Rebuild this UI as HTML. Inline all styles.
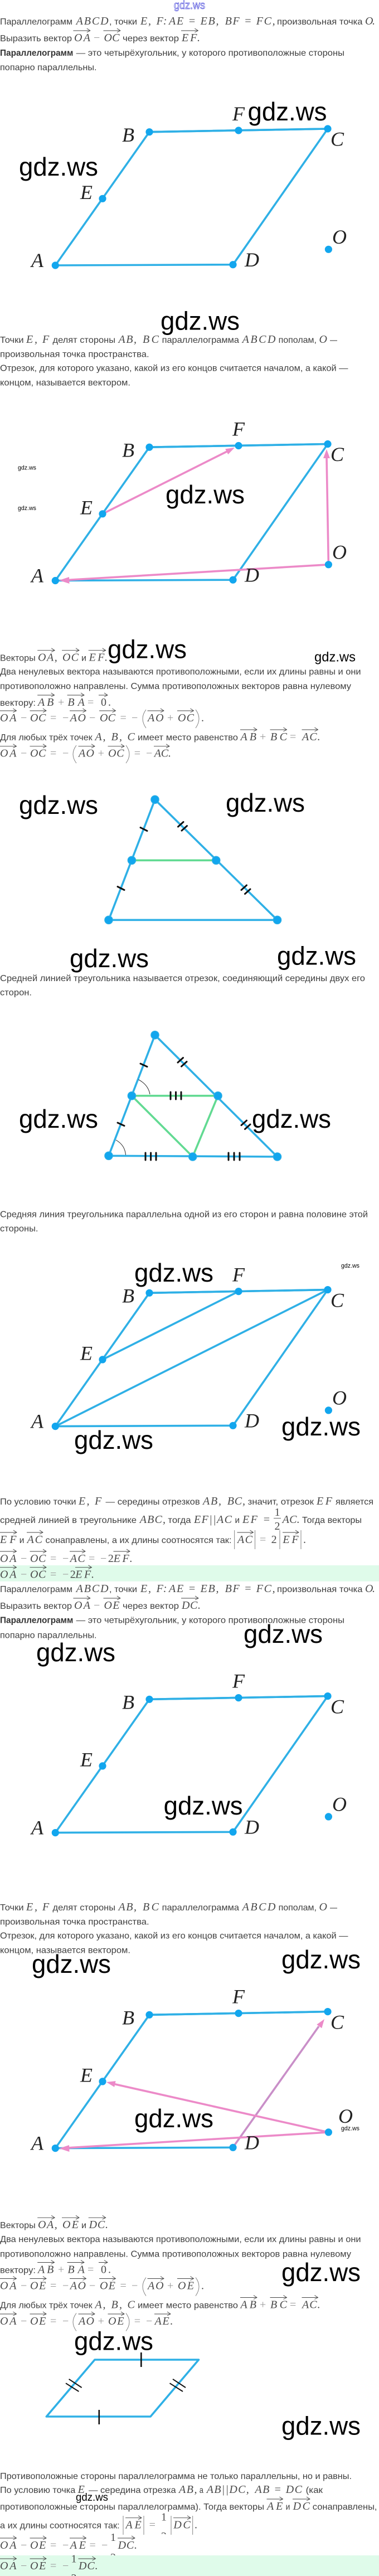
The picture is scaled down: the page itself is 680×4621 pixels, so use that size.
<!DOCTYPE html>
<html lang="ru"><head><meta charset="utf-8"><title>gdz.ws</title>
<style>
html,body{margin:0;padding:0;background:#fff}
svg{display:block}
.t{font:16px "Liberation Sans","Noto Sans CJK SC",sans-serif;fill:#404040}
.b{font:bold 16px "Liberation Sans","Noto Sans CJK SC",sans-serif;fill:#333}
.m{font:italic 20px "Liberation Serif",serif;fill:#4a4a4a}
.n{font:20px "Liberation Serif",serif;fill:#4a4a4a}
.g{font:20px "Liberation Serif",serif;fill:#999}
.l{font:italic 36px "Liberation Serif",serif;fill:#222}
.w{font:46px "Liberation Sans",sans-serif;fill:#000}
.v{fill:none;stroke:#444;stroke-width:.9}
.p{fill:none;stroke:#777;stroke-width:.9}
.s{fill:none;stroke:#2fb0e6;stroke-width:3.6;stroke-linejoin:round}
.d{fill:#12a6ee}
.k{stroke:#111;stroke-width:3;stroke-linecap:round;fill:none}
.pk{fill:none;stroke:#ec8ac8;stroke-width:3.6}
.ph{fill:#ec8ac8}
.e{fill:#12a6ee;stroke:#2fb0e6;stroke-width:1.2}
.gl{stroke:#62da92;stroke-width:3.6;fill:none}
</style></head><body>
<svg xmlns="http://www.w3.org/2000/svg" width="680" height="4621" viewBox="0 0 680 4621">
<rect width="680" height="4621" fill="#fff"/>

<!-- header -->
<text x="312" y="16" textLength="56" lengthAdjust="spacingAndGlyphs" style="font:20px 'Liberation Sans',sans-serif;fill:#fff;stroke:#3a3ad8;stroke-width:.7">gdz.ws</text>

<!-- block 1 text -->
<g>
<text class="t" x="0" y="44" textLength="130" lengthAdjust="spacingAndGlyphs">Параллелограмм</text>
<text class="m" x="136.6" y="44" textLength="58">ABCD</text>
<text class="t" x="196" y="44" textLength="50" lengthAdjust="spacingAndGlyphs">, точки</text>
<text class="m" x="252" y="44" textLength="19">E,</text>
<text class="m" x="280.6" y="44" textLength="19">F:</text>
<text class="m" x="303" y="44" textLength="89.5">AE = EB,</text>
<text class="m" x="403.6" y="44" textLength="90">BF = FC,</text>
<text class="t" x="497" y="44" textLength="153.5" lengthAdjust="spacingAndGlyphs">произвольная точка</text>
<text class="m" x="655" y="44" textLength="18">O.</text>
<text class="t" x="0" y="74" textLength="129" lengthAdjust="spacingAndGlyphs">Выразить вектор</text>
<text class="m" x="133" y="74" textLength="29">OA</text>
<text class="g" x="168" y="74" textLength="10">−</text>
<text class="m" x="186.5" y="74" textLength="28">OC</text>
<text class="t" x="220" y="74" textLength="101" lengthAdjust="spacingAndGlyphs">через вектор</text>
<text class="m" x="326" y="74" textLength="33">EF.</text>
<path class="v" d="M131.4 55h30.4m-6-4 6 4-6 3M185.5 55h30.4m-6-4 6 4-6 3M325 55h30.4m-6-4 6 4-6 3"/>
<text class="b" x="0" y="100" textLength="131.4" lengthAdjust="spacingAndGlyphs">Параллелограмм</text>
<text class="t" x="136.6" y="100" textLength="481.4" lengthAdjust="spacingAndGlyphs">— это четырёхугольник, у которого противоположные стороны</text>
<text class="t" x="0" y="126" textLength="173.5" lengthAdjust="spacingAndGlyphs">попарно параллельны.</text>
</g>

<!-- diagram 1 -->
<g>
<path class="s" d="M99.3 476 268 236.7 588 231 418 474.7Z"/>
<path class="s" stroke-width="4.4" d="M268 236.7 588 231"/>
<circle class="d" cx="99.3" cy="476" r="6.6"/><circle class="d" cx="268" cy="236.7" r="6.6"/><circle class="d" cx="428" cy="234" r="6.6"/><circle class="d" cx="588" cy="231" r="6.6"/><circle class="d" cx="418" cy="474.7" r="6.6"/><circle class="d" cx="184" cy="356.3" r="6.6"/><circle class="d" cx="589.4" cy="447.3" r="6.6"/>
<text class="l" x="56" y="479">A</text><text class="l" x="219" y="254">B</text><text class="l" x="417" y="216">F</text><text class="l" x="593" y="261.7">C</text><text class="l" x="439" y="478">D</text><text class="l" x="144" y="357">E</text><text class="l" x="596" y="437">O</text>
</g>

<!-- block 2 text -->
<g>
<text class="t" x="0" y="615" textLength="42.5" lengthAdjust="spacingAndGlyphs">Точки</text>
<text class="m" x="47" y="615" textLength="20">E,</text>
<text class="m" x="76" y="615" textLength="14">F</text>
<text class="t" x="94.5" y="615" textLength="112.5" lengthAdjust="spacingAndGlyphs">делят стороны</text>
<text class="m" x="212.5" y="615" textLength="32.5">AB,</text>
<text class="m" x="256" y="615" textLength="29">BC</text>
<text class="t" x="290.6" y="615" textLength="138.4" lengthAdjust="spacingAndGlyphs">параллелограмма</text>
<text class="m" x="434.6" y="615" textLength="59.8">ABCD</text>
<text class="t" x="499.6" y="615" textLength="68.4" lengthAdjust="spacingAndGlyphs">пополам,</text>
<text class="m" x="572.5" y="615" textLength="14">O</text>
<text class="t" x="592" y="615" textLength="13" lengthAdjust="spacingAndGlyphs">—</text>
<text class="t" x="0" y="640.7" textLength="267.6" lengthAdjust="spacingAndGlyphs">произвольная точка пространства.</text>
<text class="t" x="0" y="665.7" textLength="624.5" lengthAdjust="spacingAndGlyphs">Отрезок, для которого указано, какой из его концов считается началом, а какой —</text>
<text class="t" x="0" y="691.7" textLength="234" lengthAdjust="spacingAndGlyphs">концом, называется вектором.</text>
</g>

<!-- diagram 2 -->
<g>
<g transform="translate(0,565.5)">
<path class="s" d="M99.3 476 268 236.7 588 231 418 474.7Z"/>
<path class="s" stroke-width="4.4" d="M268 236.7 588 231"/>
</g>
<path class="pk" d="M184 921.8 408 809.5"/>
<path class="ph" d="M421 803 404.2 805.3 409.2 815.1Z"/>
<path class="pk" d="M589.4 1012.8 586 820"/>
<path class="ph" d="M586 806 580 822 592 822Z"/>
<path class="pk" d="M589.4 1012.8 120 1040.5"/>
<path class="ph" d="M106 1041 124 1035 124.5 1047Z"/>
<g transform="translate(0,565.5)">
<circle class="d" cx="99.3" cy="476" r="6.6"/><circle class="d" cx="268" cy="236.7" r="6.6"/><circle class="d" cx="428" cy="234" r="6.6"/><circle class="d" cx="588" cy="231" r="6.6"/><circle class="d" cx="418" cy="474.7" r="6.6"/><circle class="d" cx="184" cy="356.3" r="6.6"/><circle class="d" cx="589.4" cy="447.3" r="6.6"/>
<text class="l" x="56" y="479">A</text><text class="l" x="219" y="254">B</text><text class="l" x="417" y="216">F</text><text class="l" x="593" y="261.7">C</text><text class="l" x="439" y="478">D</text><text class="l" x="144" y="357">E</text><text class="l" x="596" y="437">O</text>
</g>
</g>

<!-- block 3 text -->
<g>
<text class="t" x="0" y="1185.7" textLength="63.7" lengthAdjust="spacingAndGlyphs">Векторы</text>
<text class="m" x="68" y="1185.7" textLength="34.8">OA,</text>
<text class="m" x="112" y="1185.7" textLength="29">OC</text>
<text class="t" x="146" y="1185.7" textLength="9" lengthAdjust="spacingAndGlyphs">и</text>
<text class="m" x="159.6" y="1185.7" textLength="33.4">EF.</text>
<path class="v" d="M67.2 1166.7h31m-6-4 6 4-6 3M111 1166.7h31m-6-4 6 4-6 3M158.7 1166.7h31m-6-4 6 4-6 3"/>
<text class="t" x="0" y="1210" textLength="647.5" lengthAdjust="spacingAndGlyphs">Два ненулевых вектора называются противоположными, если их длины равны и они</text>
<text class="t" x="0" y="1236" textLength="630" lengthAdjust="spacingAndGlyphs">противоположно направлены. Сумма противоположных векторов равна нулевому</text>
<text class="t" x="0" y="1266" textLength="64" lengthAdjust="spacingAndGlyphs">вектору:</text>
<text class="m" x="68" y="1266" textLength="28.3">AB</text>
<text class="g" x="104" y="1266" textLength="11">+</text>
<text class="m" x="121.4" y="1266" textLength="30.4">BA</text>
<text class="g" x="157" y="1266" textLength="14">=</text>
<text class="n" x="181" y="1266">0</text>
<text class="n" x="194" y="1266">.</text>
<path class="v" d="M67.2 1247h30.4m-6-4 6 4-6 3M120.6 1247h30.4m-6-4 6 4-6 3M177 1247h16m-6-4 6 4-6 3"/>

<text class="m" x="0" y="1294" textLength="29.5">OA</text><text class="g" x="37" y="1294" textLength="10">−</text><text class="m" x="54" y="1294" textLength="28.4">OC</text><text class="g" x="90" y="1294" textLength="14">=</text><text class="g" x="112" y="1294" textLength="10">−</text>
<text class="m" x="125.8" y="1294" textLength="28.2">AO</text><text class="g" x="160" y="1294" textLength="11">−</text><text class="m" x="179" y="1294" textLength="28">OC</text><text class="g" x="215.5" y="1294" textLength="13.5">=</text><text class="g" x="236" y="1294" textLength="12">−</text>
<text class="m" x="265" y="1294" textLength="28.6">AO</text><text class="g" x="300" y="1294" textLength="12">+</text><text class="m" x="319" y="1294" textLength="29">OC</text><text class="n" x="361" y="1294">.</text>
<path class="p" d="M262 1273Q250 1289 262 1306M351 1273Q363 1289 351 1306"/>
<path class="v" d="M0 1275h29.5m-6-4 6 4-6 3M53.5 1275h29.5m-6-4 6 4-6 3M125 1275h29.5m-6-4 6 4-6 3M178 1275h29.5m-6-4 6 4-6 3M264.5 1275h29.5m-6-4 6 4-6 3M318 1275h29.5m-6-4 6 4-6 3"/>

<text class="t" x="0" y="1328" textLength="165.7" lengthAdjust="spacingAndGlyphs">Для любых трёх точек</text>
<text class="m" x="170.5" y="1328" textLength="19">A,</text><text class="m" x="199.5" y="1328" textLength="19.5">B,</text><text class="m" x="228.5" y="1328" textLength="13.5">C</text>
<text class="t" x="247" y="1328" textLength="180" lengthAdjust="spacingAndGlyphs">имеет место равенство</text>
<text class="m" x="431.5" y="1328" textLength="28.5">AB</text><text class="g" x="466" y="1328" textLength="13">+</text><text class="m" x="485" y="1328" textLength="30">BC</text><text class="g" x="520" y="1328" textLength="14">=</text><text class="m" x="542" y="1328" textLength="32.6">AC.</text>
<path class="v" d="M431 1309h30m-6-4 6 4-6 3M484.5 1309h30m-6-4 6 4-6 3M541.5 1309h29m-6-4 6 4-6 3"/>

<text class="m" x="0" y="1357.7" textLength="29.5">OA</text><text class="g" x="37" y="1357.7" textLength="10">−</text><text class="m" x="54" y="1357.7" textLength="28.4">OC</text><text class="g" x="90" y="1357.7" textLength="14">=</text><text class="g" x="112" y="1357.7" textLength="10">−</text>
<text class="m" x="141" y="1357.7" textLength="28">AO</text><text class="g" x="175.6" y="1357.7" textLength="11.4">+</text><text class="m" x="194" y="1357.7" textLength="28.5">OC</text>
<text class="g" x="240.7" y="1357.7" textLength="14.3">=</text><text class="g" x="262" y="1357.7" textLength="11">−</text><text class="m" x="276.7" y="1357.7" textLength="30.3">AC.</text>
<path class="p" d="M137 1337Q125 1353 137 1369M226 1337Q238 1353 226 1369"/>
<path class="v" d="M0 1338.7h29.5m-6-4 6 4-6 3M53.5 1338.7h29.5m-6-4 6 4-6 3M140.5 1338.7h29.5m-6-4 6 4-6 3M193.5 1338.7h29.5m-6-4 6 4-6 3M276 1338.7h28m-6-4 6 4-6 3"/>
</g>

<!-- triangle 1 -->
<g>
<path class="s" d="M278 1434.3 195 1650.3H497.5Z"/>
<path class="gl" d="M236.4 1543.3H387.7"/>
<ellipse class="e" cx="278" cy="1434.3" rx="7.2" ry="7.2"/><ellipse class="e" cx="236.4" cy="1543.3" rx="7.2" ry="7.2"/><ellipse class="e" cx="387.7" cy="1543.3" rx="7.2" ry="7.2"/><ellipse class="e" cx="195" cy="1650.3" rx="7.2" ry="7.2"/><ellipse class="e" cx="497.5" cy="1650.3" rx="7.2" ry="7.2"/>
<path class="k" d="M252 1484.5 264 1490.5M211 1590.5 223 1596.5"/>
<path class="k" d="M319.5 1483 329 1474.5M326 1490 335.5 1481.5M433 1596.5 442.5 1588M439.5 1603.5 449 1595"/>
</g>

<text class="t" x="0" y="1760" textLength="655" lengthAdjust="spacingAndGlyphs">Средней линией треугольника называется отрезок, соединяющий середины двух его</text>
<text class="t" x="0" y="1785.7" textLength="57" lengthAdjust="spacingAndGlyphs">сторон.</text>

<!-- triangle 2 -->
<g>
<path class="s" d="M278 1856.7 195 2073.3 497.5 2075Z"/>
<path class="gl" d="M236.4 1965.7H391M236.4 1965.7 345.7 2075 391 1965.7"/>
<path d="M248.5 1936.7Q266 1946 269 1963M208 2045Q224 2054 225.5 2071.7" fill="none" stroke="#222" stroke-width="1"/>
<ellipse class="e" cx="278" cy="1856.7" rx="7.2" ry="7.2"/><ellipse class="e" cx="236.4" cy="1965.7" rx="7.2" ry="7.2"/><ellipse class="e" cx="391" cy="1965.7" rx="7.2" ry="7.2"/><ellipse class="e" cx="195" cy="2073.3" rx="7.2" ry="7.2"/><ellipse class="e" cx="345.7" cy="2075" rx="7.2" ry="7.2"/><ellipse class="e" cx="497.5" cy="2075" rx="7.2" ry="7.2"/>
<path class="k" d="M252 1908 264 1913.5M211 2014 223 2019.5"/>
<path class="k" d="M319 1906 328.5 1897.5M325.5 1913 335 1904.5M433 2018.5 442.5 2010M439.5 2025.5 449 2017"/>
<path class="k" d="M306 1959v13M315.5 1959v13M325 1959v13M261 2068v13M270.6 2068v13M280 2068v13M410 2068v13M420 2068v13M430 2068v13"/>
</g>

<text class="t" x="0" y="2183.3" textLength="660" lengthAdjust="spacingAndGlyphs">Средняя линия треугольника параллельна одной из его сторон и равна половине этой</text>
<text class="t" x="0" y="2209" textLength="68.5" lengthAdjust="spacingAndGlyphs">стороны.</text>

<!-- diagram 3 -->
<g transform="translate(0,2082.6)">
<path class="s" d="M99.3 476 268 236.7 588 231 418 474.7Z"/>
<path class="s" stroke-width="4.4" d="M268 236.7 588 231"/>
<path class="s" d="M184 356.3 428 234M99.3 476 588 231"/>
<circle class="d" cx="99.3" cy="476" r="6.6"/><circle class="d" cx="268" cy="236.7" r="6.6"/><circle class="d" cx="428" cy="234" r="6.6"/><circle class="d" cx="588" cy="231" r="6.6"/><circle class="d" cx="418" cy="474.7" r="6.6"/><circle class="d" cx="184" cy="356.3" r="6.6"/><circle class="d" cx="589.4" cy="447.3" r="6.6"/>
<text class="l" x="56" y="479">A</text><text class="l" x="219" y="254">B</text><text class="l" x="417" y="216">F</text><text class="l" x="593" y="261.7">C</text><text class="l" x="439" y="478">D</text><text class="l" x="144" y="357">E</text><text class="l" x="596" y="437">O</text>
</g>

<!-- block 4 text -->
<g>
<text class="t" x="0" y="2699" textLength="136.6" lengthAdjust="spacingAndGlyphs">По условию точки</text>
<text class="m" x="141" y="2699" textLength="19.5">E,</text><text class="m" x="170" y="2699" textLength="14">F</text>
<text class="t" x="189.5" y="2699" textLength="169.2" lengthAdjust="spacingAndGlyphs">— середины отрезков</text>
<text class="m" x="364" y="2699" textLength="33">AB,</text><text class="m" x="407.7" y="2699" textLength="32.3">BC,</text>
<text class="t" x="444.5" y="2699" textLength="118.5" lengthAdjust="spacingAndGlyphs">значит, отрезок</text>
<text class="m" x="568" y="2699" textLength="28">EF</text>
<text class="t" x="602" y="2699" textLength="68" lengthAdjust="spacingAndGlyphs">является</text>

<text class="t" x="0" y="2732" textLength="245" lengthAdjust="spacingAndGlyphs">средней линией в треугольнике</text>
<text class="m" x="250.7" y="2732" textLength="46.3">ABC,</text>
<text class="t" x="301.4" y="2732" textLength="41.2" lengthAdjust="spacingAndGlyphs">тогда</text>
<text class="m" x="348" y="2732" textLength="68">EF||AC</text>
<text class="t" x="421.5" y="2732" textLength="8.5" lengthAdjust="spacingAndGlyphs">и</text>
<text class="m" x="435" y="2732" textLength="50">EF =</text>
<text class="n" x="492.5" y="2719">1</text><path d="M491 2723.5h13" stroke="#666" fill="none"/><text class="n" x="492.5" y="2744">2</text>
<text class="m" x="506.6" y="2732" textLength="31.2">AC.</text>
<text class="t" x="542" y="2732" textLength="107" lengthAdjust="spacingAndGlyphs">Тогда векторы</text>

<text class="m" x="0" y="2768" textLength="29.5">EF</text>
<text class="t" x="34.7" y="2768" textLength="8.7" lengthAdjust="spacingAndGlyphs">и</text>
<text class="m" x="48.6" y="2768" textLength="27.4">AC</text>
<text class="t" x="81.5" y="2768" textLength="334" lengthAdjust="spacingAndGlyphs">сонаправлены, а их длины соотносятся так:</text>
<text class="m" x="426" y="2768" textLength="27">AC</text>
<text class="g" x="466" y="2768" textLength="14.5">=</text><text class="n" x="486.6" y="2768">2</text>
<text class="m" x="507.4" y="2768" textLength="28.2">EF</text><text class="n" x="544" y="2768">.</text>
<path class="p" d="M420.7 2745v34M457.5 2745v34M502 2745v34M540 2745v34"/>
<path class="v" d="M0 2749h30m-6-4 6 4-6 3M48 2749h29m-6-4 6 4-6 3M425.5 2749h29m-6-4 6 4-6 3M507 2749h29m-6-4 6 4-6 3"/>

<text class="m" x="0" y="2802" textLength="29.5">OA</text><text class="g" x="37" y="2802" textLength="10">−</text><text class="m" x="54" y="2802" textLength="28.4">OC</text><text class="g" x="90" y="2802" textLength="14">=</text><text class="g" x="112" y="2802" textLength="10">−</text>
<text class="m" x="125.8" y="2802" textLength="26.9">AC</text><text class="g" x="159" y="2802" textLength="14.5">=</text><text class="g" x="180" y="2802" textLength="11">−</text><text class="n" x="193.9" y="2802">2</text><text class="m" x="203.8" y="2802" textLength="33.9">EF.</text>
<path class="v" d="M0 2783h29.5m-6-4 6 4-6 3M53.5 2783h29.5m-6-4 6 4-6 3M125 2783h28m-6-4 6 4-6 3M203.5 2783h29.5m-6-4 6 4-6 3"/>

<rect x="0" y="2808" width="680" height="28.7" fill="#dffbea"/>
<text class="m" x="0" y="2830.7" textLength="29.5">OA</text><text class="g" x="37" y="2830.7" textLength="10">−</text><text class="m" x="54" y="2830.7" textLength="28.4">OC</text><text class="g" x="90" y="2830.7" textLength="14">=</text><text class="g" x="112" y="2830.7" textLength="10">−</text><text class="n" x="125.8" y="2830.7">2</text><text class="m" x="135.3" y="2830.7" textLength="33.7">EF.</text>
<path class="v" d="M0 2811.7h29.5m-6-4 6 4-6 3M53.5 2811.7h29.5m-6-4 6 4-6 3M135 2811.7h29.5m-6-4 6 4-6 3"/>
</g>

<!-- block 5 text -->
<g>
<text class="t" x="0" y="2856" textLength="130" lengthAdjust="spacingAndGlyphs">Параллелограмм</text>
<text class="m" x="136.6" y="2856" textLength="58">ABCD</text>
<text class="t" x="196" y="2856" textLength="50" lengthAdjust="spacingAndGlyphs">, точки</text>
<text class="m" x="252" y="2856" textLength="19">E,</text>
<text class="m" x="280.6" y="2856" textLength="19">F:</text>
<text class="m" x="303" y="2856" textLength="89.5">AE = EB,</text>
<text class="m" x="403.6" y="2856" textLength="90">BF = FC,</text>
<text class="t" x="497" y="2856" textLength="153.5" lengthAdjust="spacingAndGlyphs">произвольная точка</text>
<text class="m" x="655" y="2856" textLength="18">O.</text>
<text class="t" x="0" y="2886" textLength="129" lengthAdjust="spacingAndGlyphs">Выразить вектор</text>
<text class="m" x="133" y="2886" textLength="29">OA</text>
<text class="g" x="168" y="2886" textLength="10">−</text>
<text class="m" x="186.5" y="2886" textLength="28">OE</text>
<text class="t" x="220" y="2886" textLength="101" lengthAdjust="spacingAndGlyphs">через вектор</text>
<text class="m" x="326" y="2886" textLength="34">DC.</text>
<path class="v" d="M131.4 2867h30.4m-6-4 6 4-6 3M185.5 2867h30.4m-6-4 6 4-6 3M325 2867h31m-6-4 6 4-6 3"/>
<text class="b" x="0" y="2911.7" textLength="131.4" lengthAdjust="spacingAndGlyphs">Параллелограмм</text>
<text class="t" x="136.6" y="2911.7" textLength="481.4" lengthAdjust="spacingAndGlyphs">— это четырёхугольник, у которого противоположные стороны</text>
<text class="t" x="0" y="2938.3" textLength="173.5" lengthAdjust="spacingAndGlyphs">попарно параллельны.</text>
</g>

<!-- diagram 4 -->
<g transform="translate(0,2811.6)">
<path class="s" d="M99.3 476 268 236.7 588 231 418 474.7Z"/>
<path class="s" stroke-width="4.4" d="M268 236.7 588 231"/>
<circle class="d" cx="99.3" cy="476" r="6.6"/><circle class="d" cx="268" cy="236.7" r="6.6"/><circle class="d" cx="428" cy="234" r="6.6"/><circle class="d" cx="588" cy="231" r="6.6"/><circle class="d" cx="418" cy="474.7" r="6.6"/><circle class="d" cx="184" cy="356.3" r="6.6"/><circle class="d" cx="589.4" cy="447.3" r="6.6"/>
<text class="l" x="56" y="479">A</text><text class="l" x="219" y="254">B</text><text class="l" x="417" y="216">F</text><text class="l" x="593" y="261.7">C</text><text class="l" x="439" y="478">D</text><text class="l" x="144" y="357">E</text><text class="l" x="596" y="437">O</text>
</g>

<!-- block 6 text -->
<g transform="translate(0,2812)">
<text class="t" x="0" y="615" textLength="42.5" lengthAdjust="spacingAndGlyphs">Точки</text>
<text class="m" x="47" y="615" textLength="20">E,</text>
<text class="m" x="76" y="615" textLength="14">F</text>
<text class="t" x="94.5" y="615" textLength="112.5" lengthAdjust="spacingAndGlyphs">делят стороны</text>
<text class="m" x="212.5" y="615" textLength="32.5">AB,</text>
<text class="m" x="256" y="615" textLength="29">BC</text>
<text class="t" x="290.6" y="615" textLength="138.4" lengthAdjust="spacingAndGlyphs">параллелограмма</text>
<text class="m" x="434.6" y="615" textLength="59.8">ABCD</text>
<text class="t" x="499.6" y="615" textLength="68.4" lengthAdjust="spacingAndGlyphs">пополам,</text>
<text class="m" x="572.5" y="615" textLength="14">O</text>
<text class="t" x="592" y="615" textLength="13" lengthAdjust="spacingAndGlyphs">—</text>
<text class="t" x="0" y="640.7" textLength="267.6" lengthAdjust="spacingAndGlyphs">произвольная точка пространства.</text>
<text class="t" x="0" y="665.7" textLength="624.5" lengthAdjust="spacingAndGlyphs">Отрезок, для которого указано, какой из его концов считается началом, а какой —</text>
<text class="t" x="0" y="691.7" textLength="234" lengthAdjust="spacingAndGlyphs">концом, называется вектором.</text>
</g>

<!-- diagram 5 -->
<g>
<g transform="translate(0,3377.6)">
<path class="s" d="M99.3 476 268 236.7 588 231"/>
<path class="s" d="M99.3 476 418 474.7"/>
<path class="s" stroke-width="4.4" d="M268 236.7 588 231"/>
</g>
<path d="M418 3852 572 3635" fill="none" stroke="#c98fc8" stroke-width="3.6"/>
<path class="ph" d="M582 3622 568.3 3631.8 577.3 3638.2Z"/>
<path class="pk" d="M589.4 3825 205 3738.5"/>
<path class="ph" d="M190.8 3735 207.6 3733.1 205.2 3743.9Z"/>
<path class="pk" d="M589.4 3825 120 3853"/>
<path class="ph" d="M106 3854 124 3848 124.5 3860Z"/>
<g transform="translate(0,3377.6)">
<circle class="d" cx="99.3" cy="476" r="6.6"/><circle class="d" cx="268" cy="236.7" r="6.6"/><circle class="d" cx="428" cy="234" r="6.6"/><circle class="d" cx="588" cy="231" r="6.6"/><circle class="d" cx="418" cy="474.7" r="6.6"/><circle class="d" cx="184" cy="356.3" r="6.6"/><circle class="d" cx="589.4" cy="447.3" r="6.6"/>
<text class="l" x="56" y="479">A</text><text class="l" x="219" y="254">B</text><text class="l" x="417" y="216">F</text><text class="l" x="593" y="261.7">C</text><text class="l" x="439" y="478">D</text><text class="l" x="144" y="357">E</text>
</g>
<text class="l" x="607" y="3808">O</text>
</g>

<!-- block 7 text -->
<g transform="translate(0,2811.5)">
<text class="t" x="0" y="1185.7" textLength="63.7" lengthAdjust="spacingAndGlyphs">Векторы</text>
<text class="m" x="68" y="1185.7" textLength="34.8">OA,</text>
<text class="m" x="112" y="1185.7" textLength="29">OE</text>
<text class="t" x="146" y="1185.7" textLength="9" lengthAdjust="spacingAndGlyphs">и</text>
<text class="m" x="159.6" y="1185.7" textLength="34.4">DC.</text>
<path class="v" d="M67.2 1166.7h31m-6-4 6 4-6 3M111 1166.7h31m-6-4 6 4-6 3M158.7 1166.7h31m-6-4 6 4-6 3"/>
<text class="t" x="0" y="1210.7" textLength="647.5" lengthAdjust="spacingAndGlyphs">Два ненулевых вектора называются противоположными, если их длины равны и они</text>
<text class="t" x="0" y="1237" textLength="630" lengthAdjust="spacingAndGlyphs">противоположно направлены. Сумма противоположных векторов равна нулевому</text>
<text class="t" x="0" y="1266" textLength="64" lengthAdjust="spacingAndGlyphs">вектору:</text>
<text class="m" x="68" y="1266" textLength="28.3">AB</text>
<text class="g" x="104" y="1266" textLength="11">+</text>
<text class="m" x="121.4" y="1266" textLength="30.4">BA</text>
<text class="g" x="157" y="1266" textLength="14">=</text>
<text class="n" x="181" y="1266">0</text>
<text class="n" x="194" y="1266">.</text>
<path class="v" d="M67.2 1247h30.4m-6-4 6 4-6 3M120.6 1247h30.4m-6-4 6 4-6 3M177 1247h16m-6-4 6 4-6 3"/>

<text class="m" x="0" y="1295" textLength="29.5">OA</text><text class="g" x="37" y="1295" textLength="10">−</text><text class="m" x="54" y="1295" textLength="28.4">OE</text><text class="g" x="90" y="1295" textLength="14">=</text><text class="g" x="112" y="1295" textLength="10">−</text>
<text class="m" x="125.8" y="1295" textLength="28.2">AO</text><text class="g" x="160" y="1295" textLength="11">−</text><text class="m" x="179" y="1295" textLength="28">OE</text><text class="g" x="215.5" y="1295" textLength="13.5">=</text><text class="g" x="236" y="1295" textLength="12">−</text>
<text class="m" x="265" y="1295" textLength="28.6">AO</text><text class="g" x="300" y="1295" textLength="12">+</text><text class="m" x="319" y="1295" textLength="29">OE</text><text class="n" x="361" y="1295">.</text>
<path class="p" d="M262 1274Q250 1290 262 1307M351 1274Q363 1290 351 1307"/>
<path class="v" d="M0 1276h29.5m-6-4 6 4-6 3M53.5 1276h29.5m-6-4 6 4-6 3M125 1276h29.5m-6-4 6 4-6 3M178 1276h29.5m-6-4 6 4-6 3M264.5 1276h29.5m-6-4 6 4-6 3M318 1276h29.5m-6-4 6 4-6 3"/>

<text class="t" x="0" y="1329" textLength="165.7" lengthAdjust="spacingAndGlyphs">Для любых трёх точек</text>
<text class="m" x="170.5" y="1329" textLength="19">A,</text><text class="m" x="199.5" y="1329" textLength="19.5">B,</text><text class="m" x="228.5" y="1329" textLength="13.5">C</text>
<text class="t" x="247" y="1329" textLength="180" lengthAdjust="spacingAndGlyphs">имеет место равенство</text>
<text class="m" x="431.5" y="1329" textLength="28.5">AB</text><text class="g" x="466" y="1329" textLength="13">+</text><text class="m" x="485" y="1329" textLength="30">BC</text><text class="g" x="520" y="1329" textLength="14">=</text><text class="m" x="542" y="1329" textLength="32.6">AC.</text>
<path class="v" d="M431 1310h30m-6-4 6 4-6 3M484.5 1310h30m-6-4 6 4-6 3M541.5 1310h29m-6-4 6 4-6 3"/>

<text class="m" x="0" y="1358.5" textLength="29.5">OA</text><text class="g" x="37" y="1358.5" textLength="10">−</text><text class="m" x="54" y="1358.5" textLength="28.4">OE</text><text class="g" x="90" y="1358.5" textLength="14">=</text><text class="g" x="112" y="1358.5" textLength="10">−</text>
<text class="m" x="141" y="1358.5" textLength="28">AO</text><text class="g" x="175.6" y="1358.5" textLength="11.4">+</text><text class="m" x="194" y="1358.5" textLength="28.5">OE</text>
<text class="g" x="240.7" y="1358.5" textLength="14.3">=</text><text class="g" x="262" y="1358.5" textLength="11">−</text><text class="m" x="277.6" y="1358.5" textLength="32.9">AE.</text>
<path class="p" d="M137 1338Q125 1354 137 1370M226 1338Q238 1354 226 1370"/>
<path class="v" d="M0 1339.5h29.5m-6-4 6 4-6 3M53.5 1339.5h29.5m-6-4 6 4-6 3M140.5 1339.5h29.5m-6-4 6 4-6 3M193.5 1339.5h29.5m-6-4 6 4-6 3M277 1339.5h29m-6-4 6 4-6 3"/>
</g>

<!-- parallelogram without nodes -->
<g>
<path class="s" d="M170 4233H356.5L270 4335H83.3Z"/>
<path d="M253.3 4220v26M177.8 4323v26" stroke="#111" stroke-width="2.6" fill="none"/>
<path d="M123.6 4267.8 146.6 4283M118 4275.2 141.4 4290M310 4267.8 333 4283M304.5 4275.2 328 4290" stroke="#111" stroke-width="2" fill="none"/>
</g>

<!-- block 8 text -->
<g>
<text class="t" x="0" y="4447" textLength="631" lengthAdjust="spacingAndGlyphs">Противоположные стороны параллелограмма не только параллельны, но и равны.</text>
<text class="t" x="0" y="4472" textLength="135.3" lengthAdjust="spacingAndGlyphs">По условию точка</text>
<text class="m" x="139.6" y="4472" textLength="14.4">E</text>
<text class="t" x="159" y="4472" textLength="156.7" lengthAdjust="spacingAndGlyphs">— середина отрезка</text>
<text class="m" x="321" y="4472" textLength="32.5">AB,</text>
<text class="t" x="357.8" y="4472" textLength="7.2" lengthAdjust="spacingAndGlyphs">а</text>
<text class="m" x="370.8" y="4472" textLength="75.9">AB||DC,</text>
<text class="m" x="457.5" y="4472" textLength="84.5">AB = DC</text>
<text class="t" x="548.6" y="4472" textLength="30.4" lengthAdjust="spacingAndGlyphs">(как</text>

<text class="t" x="0" y="4502" textLength="474" lengthAdjust="spacingAndGlyphs">противоположные стороны параллелограмма). Тогда векторы</text>
<text class="m" x="479" y="4502" textLength="28.4">AE</text>
<text class="t" x="512.6" y="4502" textLength="7.8" lengthAdjust="spacingAndGlyphs">и</text>
<text class="m" x="525.6" y="4502" textLength="30.4">DC</text>
<text class="t" x="560.8" y="4502" textLength="115.7" lengthAdjust="spacingAndGlyphs">сонаправлены,</text>
<path class="v" d="M478.5 4483h29m-6-4 6 4-6 3M525 4483h31m-6-4 6 4-6 3"/>

<text class="t" x="0" y="4535.7" textLength="214.7" lengthAdjust="spacingAndGlyphs">а их длины соотносятся так:</text>
<text class="m" x="225.5" y="4535.7" textLength="28.2">AE</text>
<text class="g" x="267.6" y="4535.7" textLength="14.4">=</text>
<text class="n" x="289" y="4521.7">1</text><text class="n" x="289" y="4556">2</text>
<rect x="285" y="4546" width="20" height="14" fill="#fff"/>
<text class="m" x="311.4" y="4535.7" textLength="30.3">DC</text><text class="n" x="349" y="4535.7">.</text>
<path class="p" d="M221 4513v34M258 4513v34M307 4513v34M345.7 4513v34"/>
<path class="v" d="M225 4516.7h29m-6-4 6 4-6 3M311 4516.7h31m-6-4 6 4-6 3"/>

<text class="m" x="0" y="4572" textLength="29.5">OA</text><text class="g" x="37" y="4572" textLength="10">−</text><text class="m" x="54" y="4572" textLength="28.4">OE</text><text class="g" x="90" y="4572" textLength="14">=</text><text class="g" x="112" y="4572" textLength="10">−</text>
<text class="m" x="125.8" y="4572" textLength="28.2">AE</text><text class="g" x="160.5" y="4572" textLength="13.8">=</text><text class="g" x="182" y="4572" textLength="11">−</text>
<text class="n" x="198" y="4558">1</text><text class="n" x="198" y="4594">2</text>
<text class="m" x="211.6" y="4572" textLength="34.4">DC.</text>
<path class="v" d="M0 4553h29.5m-6-4 6 4-6 3M53.5 4553h29.5m-6-4 6 4-6 3M125 4553h29.5m-6-4 6 4-6 3M211 4553h31m-6-4 6 4-6 3"/>

<rect x="0" y="4584" width="680" height="37" fill="#dffbea"/>
<text class="m" x="0" y="4609" textLength="29.5">OA</text><text class="g" x="37" y="4609" textLength="10">−</text><text class="m" x="54" y="4609" textLength="28.4">OE</text><text class="g" x="90" y="4609" textLength="14">=</text><text class="g" x="112" y="4609" textLength="10">−</text>
<text class="n" x="127.5" y="4596.7">1</text><text class="n" x="127.5" y="4631">2</text>
<text class="m" x="141" y="4609" textLength="34.6">DC.</text>
<path class="v" d="M0 4590h29.5m-6-4 6 4-6 3M53.5 4590h29.5m-6-4 6 4-6 3M140.5 4590h31m-6-4 6 4-6 3"/>
</g>

<!-- watermarks -->
<g>
<text class="w" x="444.5" y="216" textLength="142" lengthAdjust="spacingAndGlyphs">gdz.ws</text>
<text class="w" x="34" y="315" textLength="142" lengthAdjust="spacingAndGlyphs">gdz.ws</text>
<text class="w" x="288" y="591.7" textLength="142" lengthAdjust="spacingAndGlyphs">gdz.ws</text>
<text class="w" x="297" y="903" textLength="142" lengthAdjust="spacingAndGlyphs">gdz.ws</text>
<text class="w" x="32" y="842.7" textLength="33" lengthAdjust="spacingAndGlyphs" style="font-size:11px">gdz.ws</text>
<text class="w" x="32" y="915" textLength="33" lengthAdjust="spacingAndGlyphs" style="font-size:11px">gdz.ws</text>
<text class="w" x="193" y="1180.7" textLength="142" lengthAdjust="spacingAndGlyphs">gdz.ws</text>
<text class="w" x="564" y="1186.7" textLength="74" lengthAdjust="spacingAndGlyphs" style="font-size:24px">gdz.ws</text>
<text class="w" x="34" y="1460" textLength="142" lengthAdjust="spacingAndGlyphs">gdz.ws</text>
<text class="w" x="405" y="1456" textLength="142" lengthAdjust="spacingAndGlyphs">gdz.ws</text>
<text class="w" x="125" y="1735" textLength="142" lengthAdjust="spacingAndGlyphs">gdz.ws</text>
<text class="w" x="497" y="1730.7" textLength="142" lengthAdjust="spacingAndGlyphs">gdz.ws</text>
<text class="w" x="34" y="2023" textLength="142" lengthAdjust="spacingAndGlyphs">gdz.ws</text>
<text class="w" x="452" y="2023" textLength="142" lengthAdjust="spacingAndGlyphs">gdz.ws</text>
<text class="w" x="241" y="2299" textLength="142" lengthAdjust="spacingAndGlyphs">gdz.ws</text>
<text class="w" x="612" y="2274" textLength="33" lengthAdjust="spacingAndGlyphs" style="font-size:11px">gdz.ws</text>
<text class="w" x="505" y="2575" textLength="142" lengthAdjust="spacingAndGlyphs">gdz.ws</text>
<text class="w" x="133" y="2599" textLength="142" lengthAdjust="spacingAndGlyphs">gdz.ws</text>
<text class="w" x="437" y="2947" textLength="142" lengthAdjust="spacingAndGlyphs">gdz.ws</text>
<text class="w" x="65" y="2980" textLength="142" lengthAdjust="spacingAndGlyphs">gdz.ws</text>
<text class="w" x="293.6" y="3255" textLength="142" lengthAdjust="spacingAndGlyphs">gdz.ws</text>
<text class="w" x="57" y="3539" textLength="142" lengthAdjust="spacingAndGlyphs">gdz.ws</text>
<text class="w" x="505" y="3531" textLength="142" lengthAdjust="spacingAndGlyphs">gdz.ws</text>
<text class="w" x="241" y="3816" textLength="142" lengthAdjust="spacingAndGlyphs">gdz.ws</text>
<text class="w" x="612" y="3821.7" textLength="33" lengthAdjust="spacingAndGlyphs" style="font-size:11px">gdz.ws</text>
<text class="w" x="505" y="4092" textLength="142" lengthAdjust="spacingAndGlyphs">gdz.ws</text>
<text class="w" x="133" y="4215.7" textLength="142" lengthAdjust="spacingAndGlyphs">gdz.ws</text>
<text class="w" x="505" y="4367.7" textLength="142" lengthAdjust="spacingAndGlyphs">gdz.ws</text>
<text class="w" x="136" y="4486" textLength="58" lengthAdjust="spacingAndGlyphs" style="font-size:19px">gdz.ws</text>
</g>
</svg>
</body></html>
